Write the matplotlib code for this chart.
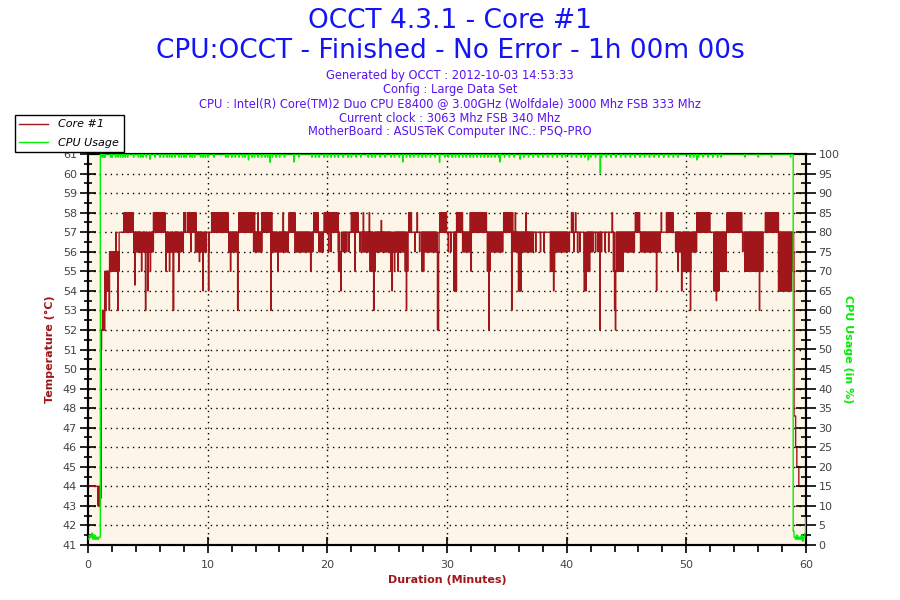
import numpy as np
import matplotlib
matplotlib.use("Agg")
import matplotlib.pyplot as plt
from matplotlib.ticker import MultipleLocator
from matplotlib.lines import Line2D

# ---------------- data ----------------
title_lines = ["OCCT 4.3.1 - Core #1", "CPU:OCCT - Finished - No Error - 1h 00m 00s"]
info_lines = [
    "Generated by OCCT : 2012-10-03 14:53:33",
    "Config : Large Data Set",
    "CPU : Intel(R) Core(TM)2 Duo CPU E8400 @ 3.00GHz (Wolfdale) 3000 Mhz FSB 333 Mhz",
    "Current clock : 3063 Mhz FSB 340 Mhz",
    "MotherBoard : ASUSTeK Computer INC.: P5Q-PRO",
]
legend_labels = ["Core #1", "CPU Usage"]

# temperature: segments where the reading flickers between a low and a high level
seg_start = [0.00, 0.78, 1.00, 1.07, 1.15, 1.40, 1.80, 2.60, 2.95, 3.80, 5.45, 6.45, 7.80,
             8.30, 8.95, 9.90, 10.33, 11.72, 12.56, 13.81, 14.51, 15.34, 16.74, 17.29,
             18.83, 19.25, 19.70, 20.90, 21.20, 21.95, 22.60, 22.87, 23.56, 23.98, 26.48,
             26.76, 27.04, 27.88, 28.07, 29.35, 29.97, 30.52, 30.80, 31.30, 31.92, 33.31,
             33.58, 34.70, 35.53, 35.95, 36.20, 37.20, 38.60, 39.00, 40.04, 41.38, 41.94,
             42.22, 42.77, 42.91, 43.89, 44.72, 45.70, 46.11, 47.79, 48.30, 48.90, 49.04,
             49.60, 50.43, 50.85, 51.82, 52.24, 52.70, 53.35, 54.61, 54.89, 56.42, 56.56,
             57.67, 58.79, 58.95, 59.00, 59.12, 59.20, 59.40]
seg_lo = [44, 43, 43.4, 51, 52, 54, 55, 57, 57, 56, 57, 56, 57,
          57, 56, 57, 57, 56, 57, 56, 57, 56, 57, 56,
          57, 56, 57, 56, 57, 57, 57, 56, 55, 56, 55,
          57, 57, 55, 56, 57, 57, 54, 57, 56, 57, 55,
          56, 57, 56, 54, 56, 57, 55, 56, 57, 55, 56,
          57, 56, 57, 55, 56, 57, 56, 57, 57, 57, 56,
          55, 56, 57, 57, 54, 55, 57, 57, 55, 57, 57,
          54, 56, 56, 47.6, 46, 45, 44]
seg_hi = [44, 44, 43.4, 52, 53, 55, 56, 57, 58, 57, 58, 57, 57,
          58, 57, 57, 58, 57, 58, 57, 58, 57, 58, 57,
          58, 57, 58, 57, 57, 58, 57, 57, 57, 57, 57,
          58, 57, 57, 57, 58, 57, 57, 58, 57, 58, 57,
          57, 58, 57, 57, 57, 57, 57, 57, 57, 57, 57,
          57, 57, 57, 57, 57, 58, 57, 57, 58, 57, 57,
          57, 57, 58, 57, 57, 57, 58, 57, 57, 57, 58,
          57, 57, 56, 47.6, 46, 45, 44]

# isolated one-sample excursions of the temperature
spike_t = [1.45, 1.78, 2.35, 2.5, 3.9, 4.45, 4.8, 5.0, 5.2, 6.5, 6.8, 7.1, 7.15, 7.6, 7.95,
           8.0, 8.15, 8.6, 9.0, 9.3, 9.6, 10.05, 10.1, 11.9, 12.5, 13.9, 14.2, 15.25, 15.85,
           16.3, 18.6, 20.1, 20.3, 20.95, 21.05, 21.15, 21.3, 21.45, 21.6, 21.8, 22.3, 22.7,
           23.0, 23.5, 23.85, 24.5, 25.3, 25.4, 25.6, 25.9, 26.6, 27.3, 27.5, 27.7, 29.2,
           29.25, 30.1, 30.3, 32.0, 33.5, 35.4, 35.7, 36.6, 37.4, 37.8, 38.1, 38.9, 40.2,
           40.4, 40.5, 40.75, 40.6, 40.9, 41.1, 41.45, 41.6, 42.4, 42.6, 42.78, 43.2, 43.5,
           43.8, 44.0, 44.05, 47.5, 47.9, 49.3, 49.6, 50.35, 51.95, 52.5, 54.7, 56.1, 58.9]
spike_v = [53, 53, 57, 53, 54.3, 55, 53, 54, 55, 55, 55, 53, 53, 55, 56,
           58, 58, 56, 58, 55.5, 54, 54, 56, 55, 53, 58, 58, 53, 55,
           58, 55, 56, 56, 55, 55, 54, 56, 56, 56, 56, 55, 56,
           58, 58, 53, 57.6, 55, 54, 55, 55, 53, 56, 58, 56, 52,
           52, 56, 56, 55, 52, 53, 58, 58, 56, 56, 56, 54, 56,
           58, 58, 58, 56, 56, 56, 54, 54, 56, 56, 52, 56, 56,
           58, 53, 52, 54, 58, 55, 54, 53, 58, 53.5, 56, 53, 55]

# CPU usage: idle before start and after stop, 100 % in between with small dips
cpu_start_t = [0.0, 0.1, 0.2, 0.3, 0.4, 0.5, 0.6, 0.7, 0.8, 0.9, 1.0]
cpu_start_v = [1.5, 2.5, 2.0, 3.0, 1.5, 2.5, 1.5, 2.0, 1.5, 2.0, 2.0]
cpu_run_begin, cpu_run_end = 1.03, 58.93
cpu_end_t = [58.93, 59.0, 59.1, 59.2, 59.3, 59.4, 59.5, 59.6, 59.7, 59.8, 59.9, 59.97]
cpu_end_v = [3.5, 2.0, 1.5, 2.5, 1.5, 2.0, 1.5, 2.5, 1.0, 2.0, 3.0, 7.0]
cpu_dip_t = [5.18, 13.4, 15.2, 17.2, 26.3, 29.35, 34.4, 36.1, 41.8, 42.8, 50.85]
cpu_dip_v = [98.7, 98.5, 97.9, 98.0, 98.0, 97.9, 98.0, 98.7, 98.5, 95.1, 98.5]
cpu_small_dip_t = [1.15, 1.3, 1.4, 1.85, 2.0, 2.3, 2.5, 2.7, 2.9, 3.1, 3.3, 3.8, 4.2, 4.4, 4.6,
                   4.85, 5.6, 6.0, 6.3, 6.6, 6.8, 7.0, 7.25, 7.6, 7.8, 8.0, 8.2, 8.5, 8.7, 8.9,
                   9.4, 9.6, 9.8, 10.0, 10.5, 11.5, 11.7, 12.0, 12.3, 12.6, 12.9, 13.1, 13.7,
                   13.9, 14.2, 14.5, 14.8, 15.0, 15.4, 15.7, 16.0, 16.4, 17.6, 18.7, 19.0,
                   19.3, 19.7, 20.0, 20.3, 20.6, 20.9, 21.3, 21.7, 22.0, 22.4, 22.8, 23.4,
                   23.7, 24.0, 24.4, 24.8, 25.3, 25.6, 26.0, 26.6, 26.9, 27.2, 27.6, 27.9,
                   28.2, 28.6, 29.0, 29.8, 30.1, 30.4, 30.7, 31.0, 31.3, 31.6, 31.9, 32.2,
                   32.5, 32.8, 33.1, 33.4, 33.7, 34.0, 34.3, 34.8, 35.2, 35.6, 36.4, 36.8,
                   37.2, 37.6, 38.0, 38.4, 38.8, 39.2, 39.6, 39.9, 40.4, 40.8, 41.2, 41.5,
                   42.0, 42.4, 42.9, 43.3, 43.7, 44.1, 44.5, 44.9, 45.3, 45.7, 46.1, 46.5,
                   46.9, 47.3, 47.7, 48.1, 48.5, 48.9, 49.3, 50.3, 50.6, 51.0, 51.4, 51.8,
                   52.2, 52.6, 52.9, 54.9, 56.0, 57.1, 58.7]
cpu_small_dip_v = 99.2

# ---------------- build sample series (2 s sampling) ----------------
dt = 1.0 / 30.0
t = np.arange(0, 60 + dt / 2, dt)
idx = np.searchsorted(seg_start, t, side="right") - 1
lo = np.array(seg_lo, float)[idx]
hi = np.array(seg_hi, float)[idx]
temp = np.where(np.arange(len(t)) % 2 == 0, hi, lo)
for st, sv in zip(spike_t, spike_v):
    temp[int(round(st / dt))] = sv

run_t = np.arange(cpu_run_begin, cpu_run_end, dt)
run_v = np.full(len(run_t), 100.0)
for st in cpu_small_dip_t:
    run_v[np.argmin(np.abs(run_t - st))] = cpu_small_dip_v
for st, sv in zip(cpu_dip_t, cpu_dip_v):
    run_v[np.argmin(np.abs(run_t - st))] = sv
cpu_t = np.concatenate([cpu_start_t, run_t, cpu_end_t, [60.0]])
cpu_v = np.concatenate([cpu_start_v, run_v, cpu_end_v, [cpu_end_v[-1]]])

# ---------------- figure ----------------
plt.rcParams["font.family"] = ["DejaVu Sans"]
RED = "#a0161a"
GREEN = "#00ee00"
fig = plt.figure(figsize=(9, 6), dpi=100)
fig.patch.set_facecolor("white")
ax = fig.add_axes([88 / 900, 55 / 600, 718 / 900, 391 / 600])
ax.set_facecolor("#fdf6e8")
ax2 = ax.twinx()

ax.plot(t, temp, color=RED, lw=1.0, drawstyle="steps-post", zorder=3)
ax2.plot(cpu_t, cpu_v, color=GREEN, lw=1.0, drawstyle="steps-post", zorder=4)

ax.set_xlim(0, 60)
ax.set_ylim(41, 61)
ax2.set_ylim(0, 100)

ax.xaxis.set_major_locator(MultipleLocator(10))
ax.xaxis.set_minor_locator(MultipleLocator(2))
ax.yaxis.set_major_locator(MultipleLocator(1))
ax.yaxis.set_minor_locator(MultipleLocator(0.5))
ax2.yaxis.set_major_locator(MultipleLocator(5))
ax2.yaxis.set_minor_locator(MultipleLocator(2.5))

for a in (ax, ax2):
    for s in a.spines.values():
        s.set_linewidth(1.5)
        s.set_color("black")
ax.tick_params(axis="both", which="major", direction="inout", length=12, width=1.2,
               labelsize=8, labelcolor="#444444", pad=2)
ax.tick_params(axis="both", which="minor", direction="inout", length=6, width=1.2)
ax.tick_params(axis="x", which="minor", direction="out", length=5)
ax.tick_params(axis="x", which="major", pad=5)
ax2.tick_params(axis="y", which="major", direction="inout", length=14, width=1.2,
                labelsize=8, labelcolor="#444444", pad=2)
ax2.tick_params(axis="y", which="minor", direction="inout", length=7, width=1.2)

# dotted grid
for yv in range(42, 61):
    ax.axhline(yv, color="black", lw=1.0, ls=(0, (1, 3)), zorder=1)
for xv in range(10, 60, 10):
    ax.axvline(xv, color="black", lw=1.0, ls=(0, (1, 3)), zorder=1)

# titles
fig.text(0.5, 1 - 21 / 600, title_lines[0], ha="center", va="center", fontsize=19, color="#1414f5")
fig.text(0.5, 1 - 51 / 600, title_lines[1], ha="center", va="center", fontsize=19, color="#1414f5")
for i, line in enumerate(info_lines):
    fig.text(0.5, 1 - (76 + 14 * i) / 600, line, ha="center", va="center", fontsize=8.3,
             color="#5a14f0")

# axis labels
fig.text(50 / 900, 1 - 349 / 600, "Temperature (°C)", rotation=90, ha="center", va="center",
         fontsize=8, fontweight="bold", color=RED)
fig.text(848 / 900, 1 - 349 / 600, "CPU Usage (in %)", rotation=-90, ha="center", va="center",
         fontsize=8, fontweight="bold", color=GREEN)
fig.text(447 / 900, 1 - 580 / 600, "Duration (Minutes)", ha="center", va="center",
         fontsize=8, fontweight="bold", color=RED)

# legend
handles = [Line2D([], [], color=RED, lw=1), Line2D([], [], color=GREEN, lw=1)]
leg = fig.legend(handles, legend_labels, loc="upper left",
                 bbox_to_anchor=(15 / 900, 1 - 115 / 600), fancybox=False, framealpha=1,
                 edgecolor="black", prop={"style": "italic", "size": 8},
                 handlelength=2.6, borderpad=0.4, labelspacing=0.75, borderaxespad=0,
                 handletextpad=0.9)
leg.get_frame().set_linewidth(1.0)

fig.savefig("out.png", dpi=100)
